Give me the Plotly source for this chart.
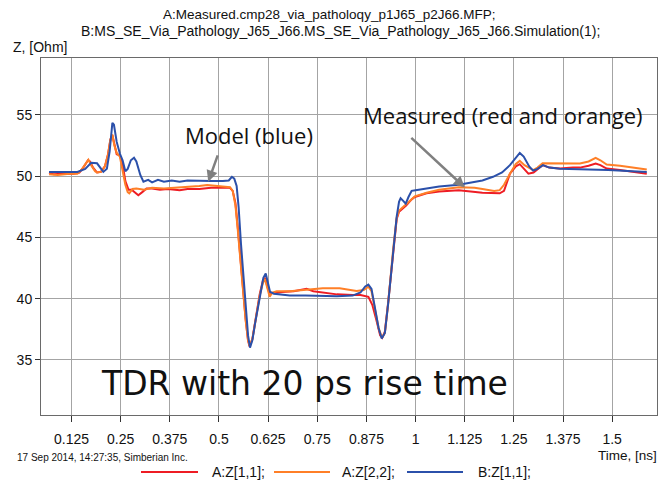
import plotly.graph_objects as go

# ---------------- data ----------------
series_names = ["A:Z[1,1];", "A:Z[2,2];", "B:Z[1,1];"]
series_colors = ["#ee1c24", "#ff7f27", "#2b50aa"]

time_red = [0.068, 0.08, 0.10, 0.13, 0.145, 0.155, 0.167, 0.172, 0.18, 0.19, 0.2, 0.21, 0.218, 0.224, 0.229,
            0.234, 0.24, 0.248, 0.255, 0.262, 0.27, 0.278, 0.285, 0.295, 0.305, 0.316, 0.33, 0.35, 0.37, 0.40,
            0.42, 0.45, 0.48, 0.51, 0.528, 0.535, 0.542, 0.548, 0.555, 0.562, 0.568, 0.574, 0.578, 0.585,
            0.592, 0.604, 0.612, 0.618, 0.623, 0.628, 0.64, 0.66, 0.69, 0.723, 0.74, 0.77, 0.80, 0.84, 0.86,
            0.88, 0.89, 0.90, 0.91, 0.915, 0.922, 0.93, 0.937, 0.943, 0.952, 0.958, 0.966, 0.976, 0.99,
            0.998, 1.028, 1.06, 1.11, 1.146, 1.17, 1.214, 1.225, 1.24, 1.255, 1.265, 1.275, 1.287, 1.30,
            1.323, 1.34, 1.367, 1.40, 1.418, 1.44, 1.458, 1.47, 1.486, 1.52, 1.55, 1.588]
z_red = [50.3, 50.15, 50.2, 50.2, 50.3, 50.7, 51.3, 51.2, 50.7, 50.3, 50.35, 50.8, 51.8, 53.0, 53.35,
         52.6, 51.8, 51.7, 51.0, 49.6, 48.9, 48.9, 48.7, 48.45, 48.7, 49.0, 49.0, 48.9, 48.95, 48.85,
         48.95, 48.95, 49.05, 49.05, 49.05, 48.8, 47.8, 45.8, 43.0, 40.5, 38.3, 36.6, 36.1, 36.7,
         38.2, 40.4, 41.5, 41.7, 41.0, 40.5, 40.45, 40.55, 40.6, 40.8, 40.6, 40.45, 40.35, 40.3, 40.3,
         40.15, 39.5, 38.3, 37.0, 36.8, 37.3, 39.6, 42.0, 44.0, 46.5, 47.1, 47.3, 47.6, 48.1,
         48.3, 48.6, 48.75, 48.86, 48.73, 48.65, 48.6, 48.8, 50.2, 50.8, 50.98, 50.6, 50.2, 50.3,
         50.9, 50.7, 50.62, 50.7, 50.7, 50.85, 51.03, 50.9, 50.62, 50.5, 50.35, 50.2]

time_orange = [0.068, 0.09, 0.12, 0.14, 0.15, 0.163, 0.168, 0.175, 0.185, 0.19, 0.2, 0.21, 0.218, 0.224,
               0.229, 0.234, 0.24, 0.248, 0.256, 0.262, 0.268, 0.272, 0.28, 0.29, 0.31, 0.33, 0.36, 0.39,
               0.42, 0.45, 0.47, 0.49, 0.515, 0.528, 0.535, 0.542, 0.548, 0.555, 0.562, 0.568, 0.574,
               0.578, 0.585, 0.592, 0.604, 0.612, 0.617, 0.622, 0.629, 0.636, 0.647, 0.68, 0.72, 0.764,
               0.807, 0.85, 0.868, 0.88, 0.888, 0.897, 0.906, 0.915, 0.922, 0.93, 0.937, 0.943, 0.952,
               0.958, 0.976, 0.998, 1.028, 1.06, 1.11, 1.15, 1.17, 1.20, 1.214, 1.225, 1.24, 1.255, 1.265,
               1.277, 1.299, 1.31, 1.323, 1.35, 1.38, 1.418, 1.44, 1.458, 1.47, 1.486, 1.52, 1.55, 1.588]
z_orange = [50.15, 50.1, 50.2, 50.2, 50.5, 51.2, 51.35, 50.9, 50.4, 50.3, 50.35, 50.8, 51.8, 53.0,
            53.4, 52.5, 51.9, 51.6, 50.4, 49.3, 48.7, 48.6, 48.95, 49.0, 48.9, 49.05, 49.0, 49.05,
            49.15, 49.2, 49.27, 49.2, 49.15, 49.1, 48.8, 47.6, 45.6, 42.8, 40.3, 38.2, 36.6,
            36.15, 36.7, 38.1, 40.3, 41.3, 41.6, 41.0, 40.15, 40.5, 40.6, 40.6, 40.7, 40.85,
            40.85, 40.63, 40.7, 40.98, 40.6, 39.0, 37.6, 36.8, 37.2, 39.5, 42.0, 44.0, 46.6,
            47.2, 47.7, 48.35, 48.65, 48.9, 49.1, 49.05, 48.95, 48.8, 48.86, 49.3, 50.2, 51.0, 51.25,
            50.9, 50.5, 50.7, 51.05, 51.05, 51.0, 51.03, 51.2, 51.5, 51.3, 50.95, 50.85, 50.7, 50.54]

time_blue = [0.068, 0.14, 0.16, 0.175, 0.19, 0.2, 0.206, 0.215, 0.222, 0.229, 0.233, 0.24, 0.248, 0.255,
             0.262, 0.268, 0.276, 0.284, 0.29, 0.30, 0.308, 0.32, 0.33, 0.345, 0.36, 0.38, 0.40, 0.42,
             0.45, 0.48, 0.51, 0.525, 0.533, 0.539, 0.545, 0.55, 0.556, 0.562, 0.568, 0.574, 0.579,
             0.585, 0.592, 0.604, 0.613, 0.619, 0.624, 0.63, 0.64, 0.66, 0.68, 0.72, 0.76, 0.80, 0.84,
             0.86, 0.872, 0.88, 0.888, 0.897, 0.906, 0.914, 0.922, 0.93, 0.937, 0.943, 0.952, 0.958,
             0.962, 0.968, 0.975, 0.982, 0.99, 1.0, 1.028, 1.06, 1.11, 1.146, 1.17, 1.197, 1.22, 1.24,
             1.255, 1.265, 1.275, 1.289, 1.299, 1.31, 1.324, 1.34, 1.367, 1.40, 1.44, 1.49, 1.55, 1.588]
z_blue = [50.35, 50.35, 50.6, 51.1, 51.05, 50.6, 50.35, 50.6, 52.0, 54.35, 54.2, 52.8, 51.85, 51.3,
          50.4, 50.6, 51.3, 51.5, 51.2, 50.1, 49.55, 49.7, 49.5, 49.7, 49.55, 49.65, 49.55, 49.65,
          49.6, 49.6, 49.6, 49.65, 49.95, 49.8, 49.2, 47.5, 44.5, 41.8, 39.2, 37.0, 36.0,
          36.6, 38.0, 40.2, 41.7, 42.05, 41.3, 40.55, 40.4, 40.3, 40.25, 40.25, 40.2, 40.2, 40.25,
          40.5, 41.0, 41.15, 40.8, 39.2, 37.6, 36.75, 37.2, 39.5, 42.0, 44.0, 46.7, 47.9,
          48.2, 48.0, 47.75, 48.3, 48.8, 48.85, 49.0, 49.15, 49.3, 49.5, 49.65, 49.95, 50.3, 50.9,
          51.5, 51.9, 51.6, 50.8, 50.45, 50.6, 50.9, 50.7, 50.6, 50.6, 50.55, 50.5, 50.4, 50.35]

x_tick_values = [0.125, 0.25, 0.375, 0.5, 0.625, 0.75, 0.875, 1.0, 1.125, 1.25, 1.375, 1.5]
x_tick_labels = ["0.125", "0.25", "0.375", "0.5", "0.625", "0.75", "0.875", "1", "1.125", "1.25", "1.375", "1.5"]
y_tick_values = [35, 40, 45, 50, 55]
y_tick_labels = ["35", "40", "45", "50", "55"]

title_lines = ["A:Measured.cmp28_via_patholoqy_p1J65_p2J66.MFP;",
               "B:MS_SE_Via_Pathology_J65_J66.MS_SE_Via_Pathology_J65_J66.Simulation(1);"]

# ---------------- figure ----------------
fig = go.Figure()
for xs, ys, name, color in zip([time_red, time_orange, time_blue], [z_red, z_orange, z_blue],
                               series_names, series_colors):
    fig.add_trace(go.Scatter(x=xs, y=ys, mode="lines", name=name,
                             line=dict(color=color, width=2), showlegend=False))

axis_font = dict(family="Liberation Sans, Arial, sans-serif", size=14, color="#111111")

fig.update_layout(
    width=660, height=482,
    margin=dict(l=41, r=3, t=58, b=67),
    paper_bgcolor="white", plot_bgcolor="white",
    font=axis_font,
    xaxis=dict(range=[0.0475, 1.614], tickvals=x_tick_values, ticktext=x_tick_labels,
               showgrid=True, gridcolor="#a4a4a4", gridwidth=1, zeroline=False,
               showline=True, mirror=True, linecolor="#6a6a6a", linewidth=1,
               ticks="outside", ticklen=6, tickcolor="#333333", tickfont=axis_font,
               ticklabelstandoff=5),
    yaxis=dict(range=[30.5, 59.65], tickvals=y_tick_values, ticktext=y_tick_labels,
               showgrid=True, gridcolor="#a4a4a4", gridwidth=1, zeroline=False,
               showline=True, mirror=True, linecolor="#6a6a6a", linewidth=1,
               ticks="outside", ticklen=5, tickcolor="#333333", tickfont=axis_font),
)

small = dict(family="Liberation Sans, Arial, sans-serif", color="#111111")
ann = []
# title lines
ann.append(dict(text=title_lines[0], xref="paper", yref="paper", x=0.4675, y=1.1232,
                xanchor="center", yanchor="middle", showarrow=False, font=dict(size=13.5, **small)))
ann.append(dict(text=title_lines[1], xref="paper", yref="paper", x=0.487, y=1.0756,
                xanchor="center", yanchor="middle", showarrow=False, font=dict(size=14, **small)))
# axis titles
ann.append(dict(text="Z, [Ohm]", xref="paper", yref="paper", x=-0.048, y=1.004, xanchor="left",
                yanchor="bottom", showarrow=False, font=dict(size=14, **small)))
ann.append(dict(text="Time, [ns]", xref="paper", yref="paper", x=1.004, y=-0.1148, xanchor="right",
                yanchor="middle", showarrow=False, font=dict(size=13.5, **small)))
ann.append(dict(text="17 Sep 2014, 14:27:35, Simberian Inc.", xref="paper", yref="paper",
                x=-0.043, y=-0.1204, xanchor="left", yanchor="middle", showarrow=False,
                font=dict(size=10, **small)))

# annotations inside plot
ann.append(dict(text="Model (blue)", x=0.5762, y=53.4, xref="x", yref="y", showarrow=False,
                xanchor="center", yanchor="middle",
                font=dict(family="Open Sans, sans-serif", size=22, color="#111111")))
ann.append(dict(text="Measured (red and orange)", x=1.223, y=54.98, xref="x", yref="y", showarrow=False,
                xanchor="center", yanchor="middle",
                font=dict(family="Open Sans, sans-serif", size=22, color="#111111")))
ann.append(dict(text="TDR with 20 ps rise time", x=0.7185, y=33.05, xref="x", yref="y", showarrow=False,
                xanchor="center", yanchor="middle",
                font=dict(family="DejaVu Sans, sans-serif", size=33, color="#111111")))
ann.append(dict(text="", x=0.4728, y=49.54, xref="x", yref="y", ax=10, ay=-28, showarrow=True,
                arrowhead=2, arrowsize=0.9, arrowwidth=2.5, arrowcolor="#808080"))
ann.append(dict(text="", x=1.1253, y=49.08, xref="x", yref="y", ax=-55, ay=-51, showarrow=True,
                arrowhead=2, arrowsize=0.9, arrowwidth=2.5, arrowcolor="#808080"))

# custom legend below the plot
legend_y = -0.1597
legend_line_x = [(141, 198), (274, 330), (407, 463)]
legend_text_x = [210, 340, 476]
shapes = []
for (x0, x1), tx, name, color in zip(legend_line_x, legend_text_x, series_names, series_colors):
    shapes.append(dict(type="line", xref="paper", yref="paper",
                       x0=(x0 - 41) / 616, x1=(x1 - 41) / 616, y0=legend_y, y1=legend_y,
                       line=dict(color=color, width=2)))
    ann.append(dict(text=name, xref="paper", yref="paper", x=(tx - 41) / 616, y=legend_y,
                    xanchor="left", yanchor="middle", showarrow=False, font=dict(size=14, **small)))

fig.update_layout(annotations=ann, shapes=shapes)
fig.write_html("out.html", config={"displayModeBar": False},
               post_script="document.body.style.margin='0';document.body.style.overflow='hidden';")
